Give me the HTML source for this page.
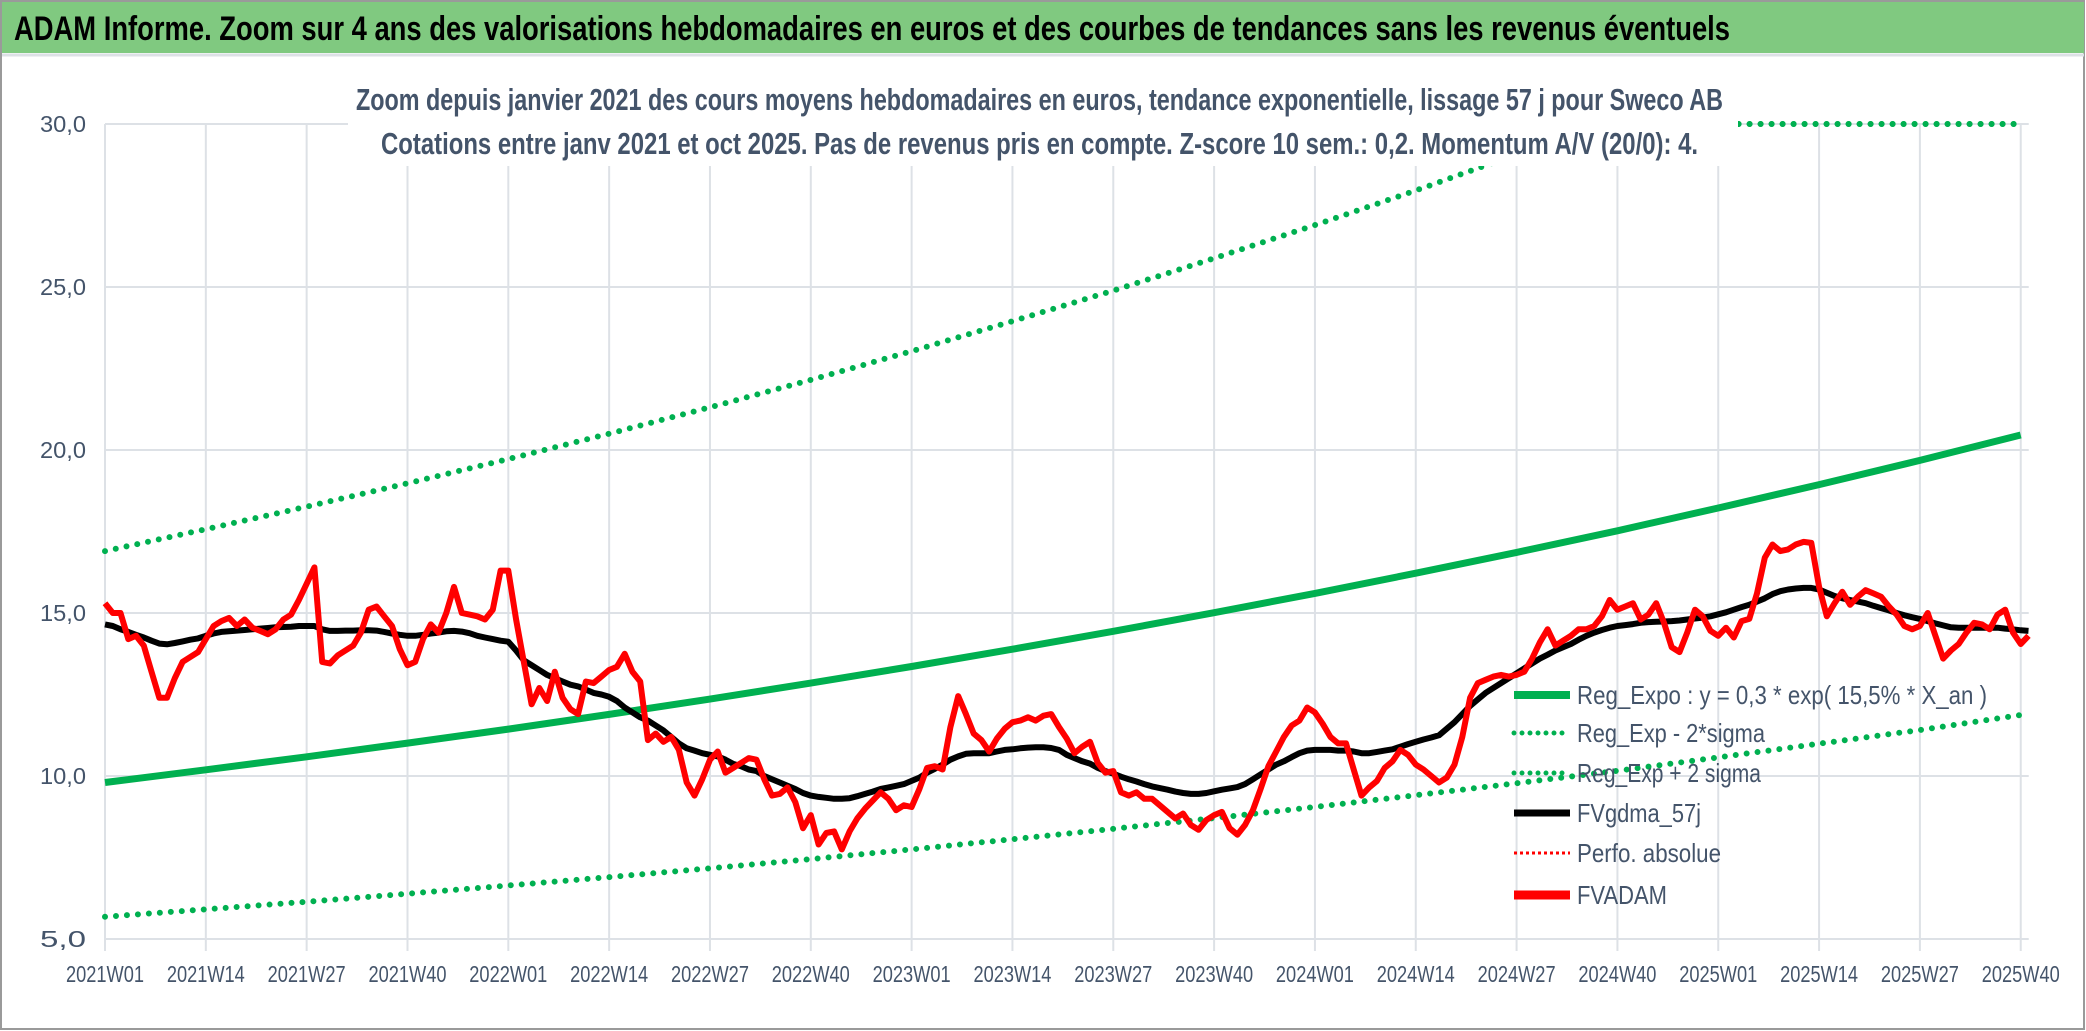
<!DOCTYPE html>
<html><head><meta charset="utf-8"><style>
html,body{margin:0;padding:0;background:#fff}
svg{display:block}
text{font-family:"Liberation Sans",sans-serif}
</style></head><body>
<svg id="chart" width="2086" height="1031" viewBox="0 0 2086 1031" xmlns="http://www.w3.org/2000/svg">
<rect x="0" y="0" width="2086" height="1031" fill="#fff"/>
<rect x="1" y="1" width="2083" height="1028" fill="none" stroke="#9a9a9a" stroke-width="2"/>
<rect x="2" y="2" width="2082" height="51" fill="#80c980"/>
<line x1="2" y1="55" x2="2084" y2="55" stroke="#dde1e6" stroke-width="3"/>
<text x="14" y="40" font-size="34" font-weight="bold" fill="#000" textLength="1716" lengthAdjust="spacingAndGlyphs">ADAM Informe. Zoom sur 4 ans des valorisations hebdomadaires en euros et des courbes de tendances sans les revenus éventuels</text>
<g id="grid"></g>
<g id="series"></g>
<rect x="348" y="62" width="1390" height="104" fill="#fff"/>
<text x="356" y="110" font-size="31" font-weight="bold" fill="#44546a" textLength="1367" lengthAdjust="spacingAndGlyphs">Zoom depuis janvier 2021 des cours moyens hebdomadaires en euros, tendance exponentielle, lissage 57 j pour Sweco AB</text>
<text x="381" y="154" font-size="31" font-weight="bold" fill="#44546a" textLength="1317" lengthAdjust="spacingAndGlyphs">Cotations entre janv 2021 et oct 2025. Pas de revenus pris en compte. Z-score 10 sem.: 0,2. Momentum A/V (20/0): 4.</text>
<g id="top30"></g>
<g id="axes"></g>
<g id="legend"></g>
</svg>
<script>
const xTickLabels = ["2021W01","2021W14","2021W27","2021W40","2022W01","2022W14","2022W27","2022W40","2023W01","2023W14","2023W27","2023W40","2024W01","2024W14","2024W27","2024W40","2025W01","2025W14","2025W27","2025W40"];
const yTicks = [5,10,15,20,25,30];
const yTickLabels = ["5,0","10,0","15,0","20,0","25,0","30,0"];
const regExpo = [9.80,10.19,10.59,11.01,11.44,11.89,12.36,12.85,13.36,13.89,14.44,15.01,15.60,16.22,16.86,17.52,18.22,18.94,19.68,20.46];
const regUpper = [16.9,17.57,18.26,18.98,19.72,20.50,21.31,22.15,23.03,23.95,24.89,25.88,26.9,27.96,29.07,30.2,31.4,32.6,33.9,35.3];
const regLower = [5.68,5.91,6.14,6.39,6.64,6.90,7.17,7.45,7.75,8.06,8.38,8.71,9.05,9.41,9.78,10.16,10.57,10.99,11.41,11.87];
const fvadam = [15.3,15.0,15.0,14.2,14.3,14.0,13.2,12.4,12.4,13.0,13.5,13.65,13.8,14.2,14.6,14.75,14.85,14.6,14.8,14.55,
14.45,14.35,14.5,14.8,14.95,15.4,15.9,16.4,13.5,13.45,13.7,13.85,14.0,14.4,15.1,15.2,14.9,14.6,13.9,13.4,
13.5,14.2,14.65,14.4,15.0,15.8,15.0,14.95,14.9,14.8,15.1,16.3,16.3,14.8,13.5,12.2,12.7,12.3,13.2,12.4,
12.05,11.9,12.9,12.85,13.05,13.25,13.35,13.75,13.2,12.9,11.1,11.3,11.05,11.2,10.8,9.8,9.4,9.9,10.5,10.75,
10.1,10.25,10.4,10.55,10.5,9.9,9.4,9.45,9.65,9.2,8.4,8.8,7.9,8.25,8.3,7.75,8.3,8.7,9.0,9.25,
9.5,9.3,8.95,9.1,9.05,9.6,10.25,10.3,10.2,11.5,12.45,11.9,11.3,11.1,10.75,11.15,11.45,11.65,11.7,11.8,
11.7,11.85,11.9,11.5,11.15,10.7,10.9,11.05,10.4,10.1,10.15,9.5,9.4,9.5,9.3,9.3,9.1,8.9,8.7,8.85,
8.5,8.35,8.65,8.8,8.9,8.4,8.2,8.5,8.95,9.6,10.3,10.75,11.2,11.55,11.7,12.1,11.95,11.6,11.2,11.0,
11.0,10.2,9.4,9.65,9.85,10.25,10.45,10.8,10.65,10.35,10.2,10.0,9.8,9.95,10.35,11.2,12.4,12.85,12.95,13.05,
13.1,13.05,13.1,13.2,13.6,14.1,14.5,14.0,14.15,14.3,14.5,14.5,14.6,14.9,15.4,15.1,15.2,15.3,14.8,14.95,
15.3,14.7,13.95,13.8,14.4,15.1,14.9,14.45,14.3,14.55,14.25,14.75,14.82,15.6,16.7,17.1,16.9,16.95,17.1,17.18,
17.15,15.8,14.9,15.3,15.65,15.25,15.5,15.7,15.6,15.5,15.2,14.95,14.6,14.5,14.6,15.0,14.3,13.6,13.85,14.05,
14.4,14.7,14.65,14.5,14.95,15.1,14.4,14.05,14.3];
const fvgdma = [14.65,14.6,14.5,14.42,14.33,14.25,14.15,14.06,14.04,14.08,14.13,
14.18,14.22,14.3,14.37,14.42,14.44,14.46,14.48,14.5,14.52,
14.54,14.56,14.57,14.58,14.6,14.6,14.6,14.5,14.45,14.45,
14.46,14.46,14.47,14.47,14.46,14.42,14.37,14.33,14.3,14.3,
14.33,14.37,14.4,14.44,14.45,14.43,14.38,14.3,14.25,14.2,
14.15,14.12,13.85,13.55,13.4,13.25,13.1,13.0,12.9,12.8,
12.75,12.65,12.55,12.5,12.43,12.3,12.1,11.95,11.8,11.7,
11.55,11.4,11.2,11.0,10.85,10.78,10.7,10.65,10.6,10.5,
10.37,10.3,10.2,10.15,10.0,9.9,9.8,9.7,9.6,9.48,
9.4,9.36,9.33,9.3,9.3,9.32,9.38,9.45,9.52,9.6,
9.65,9.7,9.75,9.85,9.95,10.1,10.22,10.35,10.5,10.6,
10.68,10.7,10.7,10.7,10.75,10.8,10.82,10.85,10.87,10.88,
10.88,10.86,10.8,10.65,10.55,10.45,10.38,10.25,10.15,10.07,
9.98,9.9,9.83,9.75,9.68,9.63,9.58,9.52,9.48,9.45,
9.45,9.48,9.53,9.58,9.62,9.66,9.75,9.9,10.05,10.2,
10.35,10.45,10.58,10.7,10.78,10.8,10.8,10.8,10.78,10.78,
10.75,10.7,10.7,10.74,10.78,10.82,10.9,10.98,11.05,11.12,
11.18,11.25,11.45,11.65,11.9,12.15,12.35,12.55,12.7,12.85,
13.0,13.15,13.3,13.45,13.6,13.72,13.85,13.95,14.05,14.18,
14.3,14.4,14.48,14.55,14.6,14.63,14.66,14.7,14.72,14.73,
14.74,14.75,14.77,14.8,14.83,14.86,14.9,14.96,15.02,15.1,
15.18,15.25,15.35,15.45,15.58,15.67,15.72,15.75,15.77,15.77,
15.72,15.62,15.52,15.45,15.4,15.35,15.3,15.22,15.15,15.08,
15.0,14.93,14.87,14.82,14.75,14.68,14.62,14.56,14.55,14.55,
14.55,14.55,14.55,14.55,14.52,14.5,14.47,14.45];
const legendLabels = ["Reg_Expo : y = 0,3 * exp( 15,5% *  X_an )","Reg_Exp - 2*sigma","Reg_Exp + 2 sigma","FVgdma_57j","Perfo. absolue","FVADAM"];

const NS = "http://www.w3.org/2000/svg";
const X0 = 105, PXW = 7.756, Y5 = 939, PXU = 32.6;
const xW = w => X0 + w * PXW;
const yV = v => Y5 - (v - 5) * PXU;
const YMAX = 30;
function mk(tag, attrs, parent) {
  const e = document.createElementNS(NS, tag);
  for (const k in attrs) e.setAttribute(k, attrs[k]);
  parent.appendChild(e);
  return e;
}
const grid = document.getElementById('grid');
const axes = document.getElementById('axes');
const series = document.getElementById('series');
const legend = document.getElementById('legend');
const xEnd = xW(247) + 8;

yTicks.forEach((t, i) => {
  const l = mk('line', {x1: X0, x2: xEnd, y1: yV(t), y2: yV(t), stroke: '#dde1e6', 'stroke-width': 2}, grid);
  
  
  const tx = mk('text', {x: 86, y: yV(t) + 8, 'font-size': 23, fill: '#44546a', 'text-anchor': 'end', textLength: 46, lengthAdjust: 'spacingAndGlyphs'}, axes);
  tx.textContent = yTickLabels[i];
  
  
});
xTickLabels.forEach((lab, i) => {
  const x = xW(i * 13);
  const l = mk('line', {x1: x, x2: x, y1: yV(30), y2: yV(5) + 12, stroke: '#dde1e6', 'stroke-width': 2}, grid);
  
  
  const tx = mk('text', {x: x, y: 982, 'font-size': 23, fill: '#44546a', 'text-anchor': 'middle', textLength: 78, lengthAdjust: 'spacingAndGlyphs'}, axes);
  tx.textContent = lab;
  
  
});

function pathTicks(arr) {
  return arr.map((v, i) => (i ? 'L' : 'M') + xW(i * 13).toFixed(1) + ',' + yV(Math.min(v, YMAX)).toFixed(1)).join(' ');
}
function pathWeeks(arr) {
  return arr.map((v, i) => (i ? 'L' : 'M') + xW(i).toFixed(1) + ',' + yV(v).toFixed(1)).join(' ');
}
const dotted = {fill: 'none', stroke: '#00b050', 'stroke-width': 6, 'stroke-linecap': 'round', 'stroke-dasharray': '0 11'};
const up = mk('path', Object.assign({d: pathTicks(regUpper)}, dotted), series);


const lo = mk('path', Object.assign({d: pathTicks(regLower)}, dotted), series);


const re = mk('path', {d: pathTicks(regExpo), fill: 'none', stroke: '#00b050', 'stroke-width': 7, 'stroke-linejoin': 'round'}, series);


const ma = mk('path', {d: pathWeeks(fvgdma), fill: 'none', stroke: '#000', 'stroke-width': 6, 'stroke-linejoin': 'round'}, series);


const rd = mk('path', {d: pathWeeks(fvadam), fill: 'none', stroke: '#ff0000', 'stroke-width': 6, 'stroke-linejoin': 'round'}, series);



const top30 = document.getElementById('top30');
const tp = mk('path', {d: pathTicks(regUpper), fill: 'none', stroke: '#00b050', 'stroke-width': 6, 'stroke-linecap': 'round', 'stroke-dasharray': '0 11', 'clip-path': 'url(#clipTop)'}, top30);


const defs = mk('defs', {}, document.getElementById('chart'));
const cp = mk('clipPath', {id: 'clipTop'}, defs);
mk('rect', {x: 1738, y: 100, width: 400, height: 60}, cp);

const legY = [695, 733, 773, 813, 853, 895];
const legLen = [410, 188, 184, 124, 144, 90];
const legStyles = [
  {stroke: '#00b050', 'stroke-width': 8},
  {stroke: '#00b050', 'stroke-width': 5, 'stroke-linecap': 'round', 'stroke-dasharray': '0 8'},
  {stroke: '#00b050', 'stroke-width': 5, 'stroke-linecap': 'round', 'stroke-dasharray': '0 8'},
  {stroke: '#000', 'stroke-width': 7},
  {stroke: '#ff0000', 'stroke-width': 3, 'stroke-dasharray': '3 3'},
  {stroke: '#ff0000', 'stroke-width': 9}
];
legendLabels.forEach((lab, i) => {
  const g = mk('g', {}, legend);
  
  
  mk('line', Object.assign({x1: 1514, x2: 1570, y1: legY[i], y2: legY[i]}, legStyles[i]), g);
  const t = mk('text', {x: 1577, y: legY[i] + 9, 'font-size': 26, fill: '#44546a', textLength: legLen[i], lengthAdjust: 'spacingAndGlyphs'}, g);
  t.textContent = lab;
});
</script>
</body></html>
